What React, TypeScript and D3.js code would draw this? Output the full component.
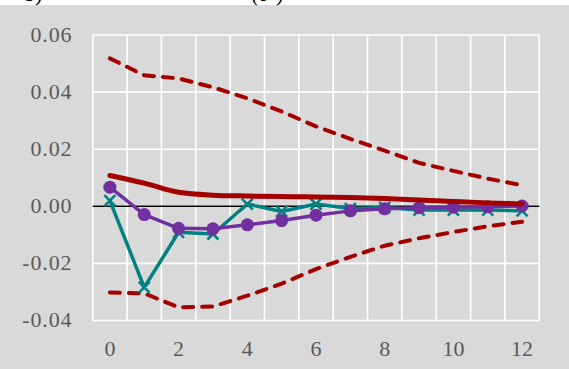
import { useEffect, useRef } from 'react';
import * as d3 from 'd3';

// horizons 0..12
const horizons = [0, 1, 2, 3, 4, 5, 6, 7, 8, 9, 10, 11, 12];
const xTickLabels = ['0', '2', '4', '6', '8', '10', '12'];
const yTicks = [-0.04, -0.02, 0, 0.02, 0.04, 0.06];
const yTickLabels = ['-0.04', '-0.02', '0.00', '0.02', '0.04', '0.06'];

// median response (thick red) and bands (dashed red)
const median = [0.0108, 0.0081, 0.0049, 0.0039, 0.0036, 0.0034, 0.0033, 0.0031, 0.0027, 0.0022, 0.0017, 0.0012, 0.0008];
const upper = [0.0518, 0.0459, 0.0448, 0.0417, 0.0378, 0.0332, 0.028, 0.0236, 0.0195, 0.0152, 0.0124, 0.0097, 0.0074];
const lower = [-0.0302, -0.0305, -0.0354, -0.0351, -0.0313, -0.0271, -0.022, -0.0177, -0.0138, -0.0112, -0.009, -0.007, -0.0054];
// comparison responses
const crosses = [0.002, -0.0284, -0.0091, -0.0097, 0.0008, -0.0018, 0.0008, -0.0008, -0.0004, -0.0013, -0.0013, -0.0013, -0.0016];
const circles = [0.0067, -0.0029, -0.0077, -0.0079, -0.0065, -0.005, -0.0031, -0.0016, -0.0009, -0.0005, -0.0003, -0.0002, 0.0001];

const W = 569;
const H = 369;
const FONT = 'Liberation Serif';

const App = () => {
  const ref = useRef<SVGSVGElement>(null);

  useEffect(() => {
    const svg = d3.select(ref.current);
    svg.selectAll('*').remove();

    svg.append('rect').attr('x', 0).attr('y', 5).attr('width', W).attr('height', H - 5).attr('fill', '#d9d9d9');

    // title sits above the crop; only its lowest strokes show
    svg.append('text').attr('x', 24).attr('y', 1).attr('font-family', FONT).attr('font-size', 22).attr('fill', '#000').text('b)');
    svg.append('text').attr('x', 252).attr('y', 1).attr('font-family', FONT).attr('font-size', 22).attr('font-style', 'italic').attr('fill', '#000').text('(ε');
    svg.append('text').attr('x', 276).attr('y', 1).attr('font-family', FONT).attr('font-size', 22).attr('fill', '#000').text(')');

    const x = d3.scaleBand<number>().domain(horizons).range([92.7, 539.3]);
    const cx = (d: number) => (x(d) as number) + x.bandwidth() / 2;
    const y = d3.scaleLinear().domain([-0.04, 0.06]).range([320.5, 35]);

    const grid = svg.append('g').attr('stroke', '#fff').attr('stroke-width', 1.6);
    yTicks.forEach((t) => {
      grid.append('line').attr('x1', 92.7).attr('x2', 539.3).attr('y1', y(t)).attr('y2', y(t));
    });
    [...horizons, 13].forEach((h) => {
      const xx = h === 13 ? 539.3 : (x(h) as number);
      grid.append('line').attr('x1', xx).attr('x2', xx).attr('y1', y(0.06)).attr('y2', y(-0.04));
    });

    // zero line
    svg.append('line').attr('x1', 92.7).attr('x2', 539.3).attr('y1', y(0)).attr('y2', y(0)).attr('stroke', '#000').attr('stroke-width', 1.6);

    // y labels
    yTicks.forEach((t, i) => {
      svg.append('text').attr('x', 72.5).attr('y', y(t) + 6.8).attr('text-anchor', 'end')
        .attr('font-family', FONT).attr('font-size', 22).attr('letter-spacing', 0.9)
        .attr('fill', '#595959').text(yTickLabels[i]);
    });
    // x labels
    xTickLabels.forEach((l) => {
      svg.append('text').attr('x', cx(+l)).attr('y', 356).attr('text-anchor', 'middle')
        .attr('font-family', FONT).attr('font-size', 22).attr('fill', '#595959').text(l);
    });

    const line = (vals: number[]) =>
      d3.line<number>().x((_, i) => cx(horizons[i])).y((v) => y(v))(vals);

    // bands
    [upper, lower].forEach((vals) => {
      svg.append('path').attr('d', line(vals)).attr('fill', 'none').attr('stroke', '#a50000')
        .attr('stroke-width', 4).attr('stroke-dasharray', '10 9').attr('stroke-linecap', 'round');
    });

    // crosses series
    svg.append('path').attr('d', line(crosses)).attr('fill', 'none').attr('stroke', '#008080').attr('stroke-width', 3.5).attr('stroke-linejoin', 'round');
    crosses.forEach((v, i) => {
      const px = cx(horizons[i]);
      const py = y(v);
      const s = 5.5;
      svg.append('path').attr('d', `M${px - s},${py - s}L${px + s},${py + s}M${px - s},${py + s}L${px + s},${py - s}`)
        .attr('stroke', '#008080').attr('stroke-width', 2.5).attr('fill', 'none');
    });

    // circles series
    svg.append('path').attr('d', line(circles)).attr('fill', 'none').attr('stroke', '#7030a0').attr('stroke-width', 3.5).attr('stroke-linejoin', 'round');
    circles.forEach((v, i) => {
      svg.append('circle').attr('cx', cx(horizons[i])).attr('cy', y(v)).attr('r', 6.5).attr('fill', '#7030a0');
    });

    // median
    svg.append('path').attr('d', d3.line<number>().x((_, i) => cx(horizons[i])).y((v) => y(v)).curve(d3.curveMonotoneX)(median))
      .attr('fill', 'none').attr('stroke', '#a50000').attr('stroke-width', 5).attr('stroke-linecap', 'round');

    return () => {
      d3.select(ref.current).selectAll('*').remove();
    };
  }, []);

  return (
    <svg ref={ref} width={W} height={H} style={{ position: 'absolute', left: 0, top: 0, display: 'block', background: '#fff' }} />
  );
};

export default App;
